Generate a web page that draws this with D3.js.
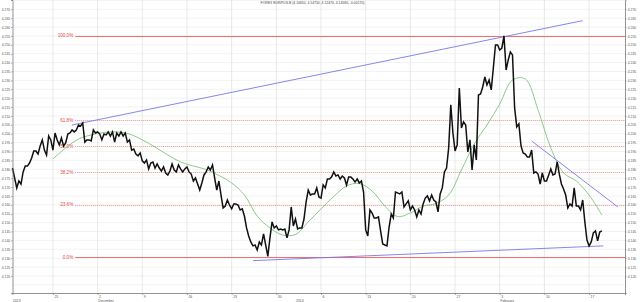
<!DOCTYPE html>
<html>
<head>
<meta charset="utf-8">
<script src="https://cdn.jsdelivr.net/npm/d3@7"></script>
<style>
  body { margin:0; background:#fff; }
  svg { display:block; font-family:"Liberation Sans", Arial, sans-serif; }
</style>
</head>
<body>
<div class="chart"></div>
<script>
//chart size
let svgWidth = 640
let svgHeight = 302

let margin = {
    left: 12.5,
    right: 15,
    top: 0,
    bottom: 9
}

let width = svgWidth - margin.left - margin.right
let height = svgHeight - margin.top - margin.bottom

// title
let title = "FOREX EUR/PLN-B (4.14650, 4.14750, 4.12470, 4.14580, -0.00170)"

// price series, one value every 8 hours
let priceStart = new Date(2013, 10, 18, 16)
let priceStepHours = 8
let prices = [
    4.1807, 4.1751, 4.1695, 4.1734, 4.1717, 4.1785, 4.1818, 4.1818, 4.1835, 4.1863,
    4.1903, 4.1903, 4.1886, 4.1931, 4.1965, 4.1908, 4.1880, 4.1987, 4.1965, 4.1908,
    4.2004, 4.1965, 4.1937, 4.1976, 4.1931, 4.1948, 4.1998, 4.2004, 4.2021, 4.2010,
    4.2021, 4.2049, 4.2043, 4.2060, 4.1953, 4.1965, 4.1965, 4.1959, 4.2021, 4.2004,
    4.2010, 4.1998, 4.1965, 4.1998, 4.1993, 4.2010, 4.1987, 4.2010, 4.1953, 4.2004,
    4.1987, 4.2010, 4.1987, 4.2004, 4.1953, 4.1965, 4.1908, 4.1914, 4.1886, 4.1875,
    4.1892, 4.1847, 4.1835, 4.1852, 4.1802, 4.1835, 4.1841, 4.1807, 4.1830, 4.1807,
    4.1790, 4.1813, 4.1779, 4.1768, 4.1790, 4.1830, 4.1796, 4.1785, 4.1824, 4.1802,
    4.1785, 4.1802, 4.1813, 4.1785, 4.1773, 4.1734, 4.1751, 4.1717, 4.1683, 4.1723,
    4.1768, 4.1785, 4.1813, 4.1796, 4.1824, 4.1751, 4.1683, 4.1734, 4.1655, 4.1582,
    4.1593, 4.1627, 4.1599, 4.1577, 4.1605, 4.1605, 4.1599, 4.1571, 4.1577, 4.1537,
    4.1470, 4.1425, 4.1391, 4.1369, 4.1374, 4.1346, 4.1391, 4.1374, 4.1436, 4.1374,
    4.1310, 4.1414, 4.1504, 4.1470, 4.1481, 4.1459, 4.1464, 4.1459, 4.1464, 4.1414,
    4.1459, 4.1588, 4.1481, 4.1520, 4.1464, 4.1470, 4.1470, 4.1520, 4.1616, 4.1683,
    4.1655, 4.1661, 4.1661, 4.1695, 4.1644, 4.1638, 4.1712, 4.1695, 4.1745, 4.1745,
    4.1757, 4.1785, 4.1762, 4.1768, 4.1745, 4.1762, 4.1751, 4.1712, 4.1757, 4.1757,
    4.1745, 4.1728, 4.1745, 4.1723, 4.1734, 4.1672, 4.1459, 4.1425, 4.1571, 4.1554,
    4.1526, 4.1526, 4.1532, 4.1453, 4.1380, 4.1374, 4.1369, 4.1475, 4.1548, 4.1526,
    4.1672, 4.1667, 4.1661, 4.1672, 4.1588, 4.1605, 4.1622, 4.1571, 4.1593, 4.1571,
    4.1532, 4.1571, 4.1548, 4.1605, 4.1638, 4.1650, 4.1622, 4.1655, 4.1627, 4.1616,
    4.1560, 4.1661, 4.1695, 4.1785, 4.1807, 4.1920, 4.2162, 4.2004, 4.1903, 4.1937,
    4.2257, 4.2032, 4.2066, 4.2049, 4.1897, 4.1965, 4.1796, 4.1937, 4.1852, 4.2218,
    4.2223, 4.2263, 4.2319, 4.2274, 4.2302, 4.2246, 4.2370, 4.2499, 4.2499, 4.2471,
    4.2482, 4.2550, 4.2358, 4.2415, 4.2460, 4.2443, 4.2145, 4.2038, 4.2055, 4.1931,
    4.1892, 4.1886, 4.1869, 4.1869, 4.1908, 4.1779, 4.1785, 4.1773, 4.1717, 4.1779,
    4.1734, 4.1734, 4.1768, 4.1802, 4.1768, 4.1773, 4.1841, 4.1773, 4.1717, 4.1689,
    4.1655, 4.1582, 4.1605, 4.1593, 4.1695, 4.1593, 4.1593, 4.1571, 4.1627, 4.1504,
    4.1402, 4.1369, 4.1391, 4.1442, 4.1453, 4.1397, 4.1447, 4.1453
]

// moving average (green), one value every 2 days
let maStart = new Date(2013, 10, 25)
let maStepHours = 48
let maValues = [
    4.1858, 4.1920, 4.1970, 4.1993, 4.2007, 4.2010, 4.1998, 4.1965, 4.1925, 4.1880,
    4.1841, 4.1818, 4.1799, 4.1765, 4.1723, 4.1655, 4.1537, 4.1470, 4.1430, 4.1433,
    4.1504, 4.1577, 4.1647, 4.1706, 4.1720, 4.1678, 4.1593, 4.1534, 4.1554, 4.1593,
    4.1607, 4.1655, 4.1796, 4.1942, 4.2049, 4.2167, 4.2302, 4.2308, 4.2134, 4.1920,
    4.1779, 4.1734, 4.1655, 4.1543
]

// fibonacci retracement
let fibHigh = 4.2552
let fibLow = 4.1307
let fibLevels = [0, 23.6, 38.2, 50, 61.8, 100]
let fibLabels = ["0.0%", "23.6%", "38.2%", "50.0%", "61.8%", "100.0%"]
let fibStart = new Date(2013, 10, 28, 12)

// blue trend lines: start and end points
let trendStarts = [[new Date(2013, 10, 28), 4.2049], [new Date(2013, 11, 26, 8), 4.1286], [new Date(2014, 1, 8), 4.1959]]
let trendEnds = [[new Date(2014, 1, 16), 4.2636], [new Date(2014, 1, 19, 6), 4.1369], [new Date(2014, 1, 21, 12), 4.1588]]

// axis ticks
let yTickValues = [4.120, 4.125, 4.130, 4.135, 4.140, 4.145, 4.150, 4.155, 4.160, 4.165,
    4.170, 4.175, 4.180, 4.185, 4.190, 4.195, 4.200, 4.205, 4.210, 4.215, 4.220, 4.225,
    4.230, 4.235, 4.240, 4.245, 4.250, 4.255, 4.260, 4.265, 4.270]
let yGridValues = [4.115].concat(yTickValues, [4.275])
let periodLabels = ["2013", "December", "2014", "February"]
let periodDates = [new Date(2013, 10, 18, 16), new Date(2013, 11, 2), new Date(2014, 0, 2), new Date(2014, 1, 3)]

let svg = d3.select('.chart')
    .append('svg')
    .attr('width', svgWidth)
    .attr('height', svgHeight)
    .append('g')
    .attr('transform', `translate(${margin.left},${margin.top})`)

let xScale = d3.scaleTime()
    .domain([new Date(2013, 10, 18, 16), new Date(2014, 1, 22, 15)])
    .range([0, width])
let yScale = d3.scaleLinear()
    .domain([4.1104, 4.2752])
    .range([height, 0])

// grid
svg.append('g')
    .selectAll('line')
    .data(yGridValues)
    .join('line')
    .attr('x1', 0)
    .attr('x2', width)
    .attr('y1', d => yScale(d))
    .attr('y2', d => yScale(d))
    .attr('stroke', '#efefef')
    .attr('stroke-width', 0.8)

svg.append('g')
    .selectAll('line')
    .data(xScale.ticks(d3.timeMonday))
    .join('line')
    .attr('x1', d => xScale(d))
    .attr('x2', d => xScale(d))
    .attr('y1', 0)
    .attr('y2', height)
    .attr('stroke', '#e2e2e2')
    .attr('stroke-width', 0.8)

// title
svg.append('text')
    .attr('x', 300)
    .attr('y', 4.3)
    .attr('text-anchor', 'middle')
    .attr('font-size', 3.4)
    .attr('fill', '#444')
    .text(title)

// fibonacci lines
let fibValue = p => fibLow + (fibHigh - fibLow) * p / 100
let isEdge = d => d == 0 || d == 100

svg.append('g')
    .selectAll('line')
    .data(fibLevels)
    .join('line')
    .attr('x1', xScale(fibStart))
    .attr('x2', width)
    .attr('y1', d => Math.round(yScale(fibValue(d))) + 0.5)
    .attr('y2', d => Math.round(yScale(fibValue(d))) + 0.5)
    .attr('stroke', d => isEdge(d) ? '#f07070' : '#f08e8e')
    .attr('stroke-width', d => isEdge(d) ? 1.2 : 1)
    .attr('stroke-dasharray', d => isEdge(d) ? null : '1,1')

svg.append('g')
    .selectAll('text')
    .data(fibLevels)
    .join('text')
    .attr('x', xScale(fibStart) - 2)
    .attr('y', d => yScale(fibValue(d)) + 1.6)
    .attr('text-anchor', 'end')
    .attr('font-size', 4.6)
    .attr('fill', '#e04848')
    .text((d, i) => fibLabels[i])

// moving average
let maData = maValues.map((v, i) => ({ date: d3.timeHour.offset(maStart, i * maStepHours), value: v }))
let maLine = d3.line()
    .x(d => xScale(d.date))
    .y(d => yScale(d.value))
    .curve(d3.curveCatmullRom)

svg.append('path')
    .attr('d', maLine(maData))
    .attr('fill', 'none')
    .attr('stroke', '#6dbd6d')
    .attr('stroke-width', 0.8)

// trend lines
svg.append('g')
    .selectAll('line')
    .data(trendStarts)
    .join('line')
    .attr('x1', d => xScale(d[0]))
    .attr('y1', d => yScale(d[1]))
    .attr('x2', (d, i) => xScale(trendEnds[i][0]))
    .attr('y2', (d, i) => yScale(trendEnds[i][1]))
    .attr('stroke', '#7878e6')
    .attr('stroke-width', 0.9)

// price
let priceData = prices.map((v, i) => ({ date: d3.timeHour.offset(priceStart, i * priceStepHours), value: v }))
let priceLine = d3.line()
    .x(d => xScale(d.date))
    .y(d => yScale(d.value))

svg.append('path')
    .attr('d', priceLine(priceData))
    .attr('fill', 'none')
    .attr('stroke', '#111')
    .attr('stroke-width', 1.5)
    .attr('stroke-linejoin', 'miter')

// axes
let yLeft = d3.axisLeft(yScale)
    .tickValues(yTickValues)
    .tickFormat(d3.format('.3f'))
    .tickSize(1.5)
    .tickPadding(0.8)
let yRight = d3.axisRight(yScale)
    .tickValues(yTickValues)
    .tickFormat(d3.format('.3f'))
    .tickSize(1.5)
    .tickPadding(1.2)
let xAxis = d3.axisBottom(xScale)
    .ticks(d3.timeMonday)
    .tickFormat(d3.timeFormat('%-d'))
    .tickSize(2)
    .tickPadding(1)

svg.append('g')
    .attr('id', 'y-left')
    .call(yLeft)
svg.append('g')
    .attr('id', 'y-right')
    .attr('transform', `translate(${width},0)`)
    .call(yRight)
svg.append('g')
    .attr('id', 'x-axis')
    .attr('transform', `translate(0,${height})`)
    .call(xAxis)

d3.selectAll('#y-left, #y-right, #x-axis')
    .attr('font-size', 3.4)
    .attr('font-family', null)
d3.selectAll('#y-left .domain, #y-right .domain, #x-axis .domain')
    .attr('stroke', '#777')
    .attr('stroke-width', 0.8)
d3.selectAll('#y-left .tick line, #y-right .tick line, #x-axis .tick line')
    .attr('stroke', '#777')
    .attr('stroke-width', 0.6)
d3.selectAll('#y-left text, #y-right text, #x-axis text')
    .attr('fill', '#555')
d3.selectAll('#x-axis text')
    .attr('text-anchor', 'start')
    .attr('x', 1)

// month / year labels under the day numbers
svg.append('g')
    .selectAll('text')
    .data(periodDates)
    .join('text')
    .attr('x', d => xScale(d) + 0.6)
    .attr('y', height + 8.6)
    .attr('font-size', 3.4)
    .attr('fill', '#555')
    .text((d, i) => periodLabels[i])
</script>
</body>
</html>
